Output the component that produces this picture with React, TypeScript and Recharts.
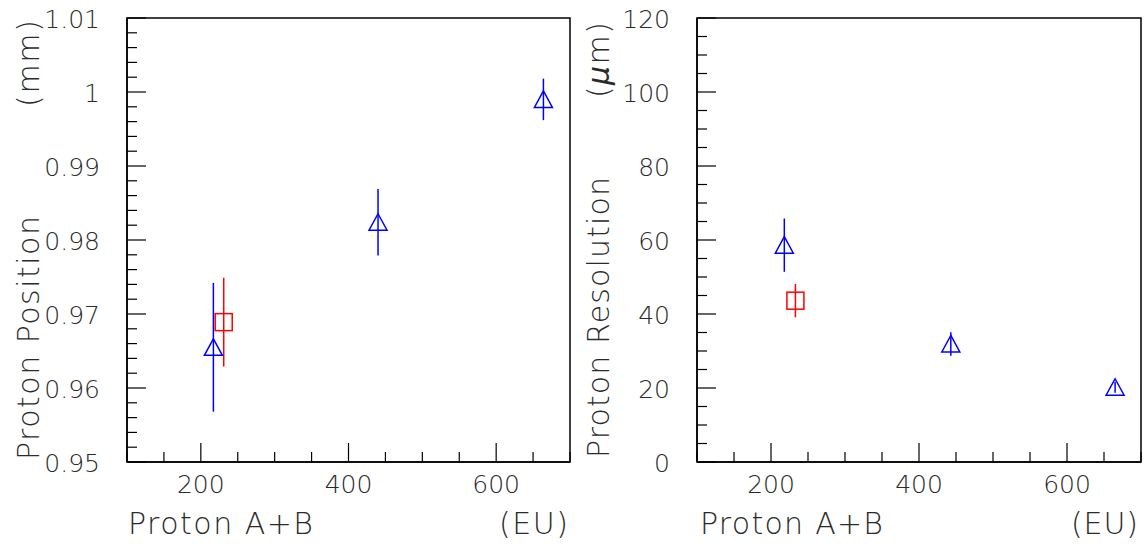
import { ScatterChart, Scatter, XAxis, YAxis, ErrorBar, ReferenceArea } from 'recharts';

// x axis ticks (minor every 50, labelled at 200/400/600)
const xTicks = [100, 150, 200, 250, 300, 350, 400, 450, 500, 550, 600, 650, 700];
const xLabels = [200, 400, 600];

// left panel: proton position (mm)
const posTicksMajor = [0.95, 0.96, 0.97, 0.98, 0.99, 1.0, 1.01];
const posBlueX = [217, 440, 664];
const posBlueY = [0.9655, 0.9824, 0.999];
const posBlueErr = [0.0087, 0.0045, 0.0028];
const posRedX = [231];
const posRedY = [0.9689];
const posRedErr = [0.006];

// right panel: proton resolution (um)
const resTicksMajor = [0, 20, 40, 60, 80, 100, 120];
const resBlueX = [218, 443, 665];
const resBlueY = [58.6, 31.9, 20.2];
const resBlueErr = [7.2, 3.2, 1.5];
const resRedX = [233];
const resRedY = [43.6];
const resRedErr = [4.5];

const FONT = "'DejaVu Sans', sans-serif";
const TXT = '#2a2a2a';

function subdivide(major: number[], parts: number) {
  const out: number[] = [];
  for (let i = 0; i < major.length - 1; i++) {
    const step = (major[i + 1] - major[i]) / parts;
    for (let k = 0; k < parts; k++) out.push(+(major[i] + k * step).toFixed(6));
  }
  out.push(major[major.length - 1]);
  return out;
}

function toPoints(xs: number[], ys: number[], errs: number[]) {
  return xs.map((x, i) => ({ x, y: ys[i], err: errs[i] }));
}

const Triangle = (props: any) => {
  const { cx, cy } = props;
  if (cx == null || cy == null) return null;
  return (
    <path
      d={`M${cx},${cy - 8.5} L${cx + 9},${cy + 8} L${cx - 9},${cy + 8} Z`}
      fill="none"
      stroke="#0000ff"
      strokeWidth={1.5}
    />
  );
};

const Square = (props: any) => {
  const { cx, cy } = props;
  if (cx == null || cy == null) return null;
  return <rect x={cx - 8.5} y={cy - 8.5} width={17} height={17} fill="none" stroke="#ff0000" strokeWidth={1.5} />;
};

const renderXTick = (props: any) => {
  const { x, y, payload } = props;
  const major = xLabels.includes(payload.value);
  return (
    <g key={`xt-${payload.value}`}>
      <line x1={x} y1={y} x2={x} y2={y - (major ? 19 : 10)} stroke="#000" strokeWidth={1.2} />
      {major && (
        <text x={x} y={y + 31} textAnchor="middle" fontSize={25} fontFamily={FONT} fontWeight={200} fill={TXT}>
          {payload.value}
        </text>
      )}
    </g>
  );
};

const makeYTick = (major: number[]) => (props: any) => {
  const { x, y, payload } = props;
  const isMajor = major.some((m) => Math.abs(m - payload.value) < 1e-9);
  return (
    <g key={`yt-${payload.value}`}>
      <line x1={x} y1={y} x2={x + (isMajor ? 19 : 10)} y2={y} stroke="#000" strokeWidth={1.2} />
      {isMajor && (
        <text x={x - 27} y={y + 10} textAnchor="end" fontSize={25} fontFamily={FONT} fontWeight={200} fill={TXT}>
          {String(Number(Number(payload.value).toFixed(2)))}
        </text>
      )}
    </g>
  );
};

interface PanelProps {
  left: number;
  marginLeft: number;
  marginRight: number;
  yDomain: [number, number];
  yMajor: number[];
  yParts: number;
  blue: { x: number; y: number; err: number }[];
  red: { x: number; y: number; err: number }[];
}

function Panel({ left, marginLeft, marginRight, yDomain, yMajor, yParts, blue, red }: PanelProps) {
  const yTicks = subdivide(yMajor, yParts);
  return (
    <div style={{ position: 'absolute', left, top: 0 }}>
      <ScatterChart width={574} height={549} margin={{ top: 18, right: marginRight, bottom: 57, left: marginLeft - 30 }}>
        <XAxis
          type="number"
          dataKey="x"
          domain={[100, 700]}
          ticks={xTicks}
          interval={0}
          height={30}
          tickSize={0}
          tickMargin={0}
          tickLine={false}
          tick={renderXTick}
          axisLine={{ stroke: '#000', strokeWidth: 1.5 }}
          allowDataOverflow
        />
        <YAxis
          type="number"
          dataKey="y"
          domain={yDomain}
          ticks={yTicks}
          interval={0}
          width={30}
          tickSize={0}
          tickMargin={0}
          tickLine={false}
          tick={makeYTick(yMajor)}
          axisLine={{ stroke: '#000', strokeWidth: 1.5 }}
          allowDataOverflow
        />
        <ReferenceArea x1={100} x2={700} y1={yDomain[0]} y2={yDomain[1]} fill="none" stroke="#000" strokeWidth={1.5} />
        <Scatter data={blue} shape={Triangle} isAnimationActive={false}>
          <ErrorBar dataKey="err" direction="y" width={0} stroke="#0000ff" strokeWidth={1.5} isAnimationActive={false} />
        </Scatter>
        <Scatter data={red} shape={Square} isAnimationActive={false}>
          <ErrorBar dataKey="err" direction="y" width={0} stroke="#ff0000" strokeWidth={1.5} isAnimationActive={false} />
        </Scatter>
      </ScatterChart>
    </div>
  );
}

const titleStyle = { fontFamily: FONT, fontWeight: 200, fontSize: 30, fill: TXT } as const;

export default function App() {
  return (
    <div style={{ position: 'absolute', left: 0, top: 0, width: 1148, height: 549, background: '#fff', overflow: 'hidden' }}>
      <Panel
        left={0}
        marginLeft={127}
        marginRight={4}
        yDomain={[0.95, 1.01]}
        yMajor={posTicksMajor}
        yParts={5}
        blue={toPoints(posBlueX, posBlueY, posBlueErr)}
        red={toPoints(posRedX, posRedY, posRedErr)}
      />
      <Panel
        left={574}
        marginLeft={123}
        marginRight={7}
        yDomain={[0, 120]}
        yMajor={resTicksMajor}
        yParts={4}
        blue={toPoints(resBlueX, resBlueY, resBlueErr)}
        red={toPoints(resRedX, resRedY, resRedErr)}
      />
      <svg width={1148} height={549} style={{ position: 'absolute', left: 0, top: 0, pointerEvents: 'none' }}>
        {/* left titles */}
        <text {...titleStyle} x={39} y={460} transform="rotate(-90 39 460)" textLength={244} lengthAdjust="spacing">
          Proton Position
        </text>
        <text {...titleStyle} x={39} y={107} transform="rotate(-90 39 107)" textLength={87} lengthAdjust="spacing">
          (mm)
        </text>
        <text {...titleStyle} x={128} y={534} textLength={185} lengthAdjust="spacing">
          Proton A+B
        </text>
        <text {...titleStyle} x={499} y={534} textLength={69} lengthAdjust="spacing">
          (EU)
        </text>
        {/* right titles */}
        <text {...titleStyle} x={609} y={458} transform="rotate(-90 609 458)" textLength={281} lengthAdjust="spacing">
          Proton Resolution
        </text>
        <text {...titleStyle} x={609} y={98} transform="rotate(-90 609 98)" textLength={76} lengthAdjust="spacing">
          (<tspan fontStyle="italic">μ</tspan>m)
        </text>
        <text {...titleStyle} x={700} y={534} textLength={183} lengthAdjust="spacing">
          Proton A+B
        </text>
        <text {...titleStyle} x={1071} y={534} textLength={67} lengthAdjust="spacing">
          (EU)
        </text>
      </svg>
    </div>
  );
}
